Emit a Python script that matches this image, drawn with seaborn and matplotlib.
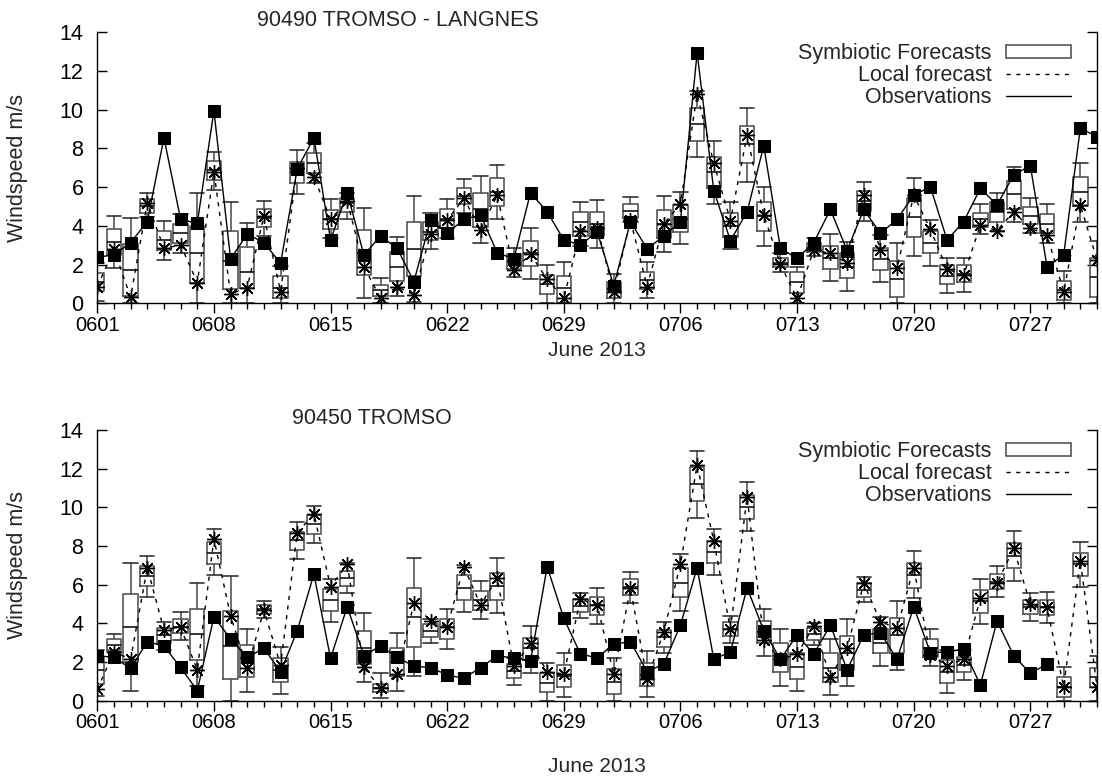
import numpy as np
import pandas as pd
import seaborn as sns
import matplotlib
matplotlib.use("Agg")
import matplotlib.pyplot as plt
from matplotlib.patches import Patch
from matplotlib.lines import Line2D

# ---------------- data ----------------
days = list(range(61))  # 0 = 0601 ... 60 = 0731
tick_days = [0, 7, 14, 21, 28, 35, 42, 49, 56]
tick_labels = ["0601", "0608", "0615", "0622", "0629", "0706", "0713", "0720", "0727"]
y_ticks = [0, 2, 4, 6, 8, 10, 12, 14]

# Panel 1: 90490 TROMSO - LANGNES
p1_title = "90490 TROMSO - LANGNES"
p1_lo = [0.13, 1.81, 0.0, 4.45, 2.24, 2.62, 0.0, 5.85, 0.0, 0.0, 3.48, 0.0, 5.63, 6.23, 3.36, 4.34, 0.29, 0.0, 0.38, 0.05,
         2.79, 3.36, 4.68, 3.1, 4.34, 1.38, 1.24, 0.0, 0.0, 2.95, 2.84, 0.0, 4.2, 0.26, 2.67, 3.05, 7.57, 5.13, 2.79, 6.28,
         2.96, 1.64, 0.0, 2.45, 1.17, 0.65, 4.25, 1.12, 0.0, 2.44, 1.93, 0.55, 0.6, 3.56, 3.75, 4.22, 3.65, 3.1, 0.0, 4.22, 0.0]
p1_q1 = [0.62, 2.5, 0.38, 4.68, 2.75, 3.1, 1.03, 6.37, 0.72, 0.81, 3.92, 0.29, 6.2, 6.71, 3.84, 4.73, 1.46, 0.38, 1.15, 1.41,
         3.27, 3.87, 5.11, 3.96, 5.03, 1.76, 1.93, 0.46, 0.03, 3.48, 3.48, 0.29, 4.39, 0.72, 3.36, 3.7, 8.4, 5.94, 3.41, 7.23,
         3.73, 1.86, 0.55, 2.63, 1.76, 1.29, 4.77, 1.72, 0.31, 3.44, 2.58, 1.0, 1.12, 3.96, 4.22, 4.87, 4.1, 3.61, 0.17, 5.03, 0.34]
p1_med = [1.08, 3.18, 1.72, 5.03, 3.27, 3.61, 2.58, 6.88, 2.2, 1.64, 4.39, 0.8, 6.8, 7.26, 4.34, 5.2, 2.6, 0.69, 1.89, 2.79,
          3.7, 4.36, 5.55, 4.85, 5.73, 2.2, 2.58, 0.98, 0.77, 4.22, 4.1, 0.75, 4.77, 1.2, 4.1, 4.35, 9.24, 6.76, 4.0, 8.21,
          4.5, 2.1, 1.08, 2.87, 2.36, 1.89, 5.28, 2.29, 1.24, 4.44, 3.13, 1.43, 1.5, 4.34, 4.7, 5.65, 4.51, 4.1, 0.69, 5.77, 1.34]
p1_q3 = [1.58, 3.82, 3.06, 5.37, 3.75, 4.1, 3.99, 7.35, 3.73, 2.93, 4.85, 1.41, 7.31, 7.75, 4.82, 5.46, 3.79, 0.95, 2.67, 4.18,
         4.22, 4.87, 5.97, 5.71, 6.45, 2.53, 3.22, 1.46, 1.43, 4.7, 4.73, 1.08, 5.13, 1.64, 4.82, 5.08, 10.07, 7.57, 4.65, 9.16,
         5.22, 2.36, 1.64, 3.13, 2.96, 2.58, 5.8, 2.87, 2.19, 5.46, 3.75, 1.98, 1.98, 4.68, 5.22, 6.33, 4.96, 4.6, 1.17, 6.51, 2.32]
p1_hi = [2.1, 4.53, 4.39, 5.71, 4.25, 4.6, 5.68, 7.83, 5.25, 4.13, 5.3, 1.93, 7.92, 8.26, 5.37, 5.68, 4.94, 1.29, 3.44, 5.56,
         4.68, 5.39, 6.4, 6.59, 7.14, 2.87, 3.87, 1.98, 2.12, 5.25, 5.34, 1.51, 5.51, 2.12, 5.56, 5.73, 10.97, 8.38, 5.25, 10.1,
         6.02, 2.58, 1.9, 3.36, 3.56, 3.18, 6.28, 3.53, 3.1, 6.45, 4.3, 2.36, 2.36, 5.11, 5.71, 7.06, 5.42, 5.11, 1.69, 7.26, 3.2]
p1_local = [0.86, 2.79, 0.31, 5.2, 2.84, 3.01, 1.07, 6.8, 0.48, 0.81, 4.51, 0.6, 7.0, 6.54, 4.34, 5.28, 1.89, 0.26, 0.86, 0.43,
            3.58, 4.3, 5.42, 3.79, 5.59, 1.72, 2.53, 1.24, 0.26, 3.75, 3.9, 0.6, 4.3, 0.86, 4.1, 5.13, 10.81, 7.23, 4.27, 8.69,
            4.56, 2.01, 0.26, 2.75, 2.58, 2.07, 5.59, 2.75, 1.81, 5.59, 3.82, 1.76, 1.46, 4.04, 3.75, 4.73, 3.87, 3.53, 0.6, 5.08, 2.24]
p1_obs = [2.38, 2.5, 3.13, 4.22, 8.55, 4.34, 4.13, 9.95, 2.29, 3.58, 3.13, 2.07, 6.94, 8.55, 3.27, 5.71, 2.5, 3.48, 2.84, 1.12,
          4.3, 3.61, 4.34, 4.56, 2.62, 2.29, 5.71, 4.73, 3.27, 3.01, 3.7, 0.91, 4.22, 2.81, 3.48, 4.22, 12.94, 5.82, 3.24, 4.73,
          8.14, 2.84, 2.32, 3.13, 4.85, 2.72, 4.85, 3.61, 4.34, 5.59, 6.02, 3.27, 4.22, 5.94, 5.08, 6.63, 7.11, 1.89, 2.5, 9.04, 8.61]

# Panel 2: 90450 TROMSO
p2_title = "90450 TROMSO"
p2_lo = [0.24, 2.5, 0.52, 5.38, 2.62, 3.14, 0.76, 6.5, 0.0, 0.43, 4.26, 0.34, 7.31, 8.14, 4.09, 5.55, 0.98, 0.12, 0.52, 1.28,
         3.0, 2.66, 4.6, 4.21, 4.52, 0.81, 1.41, 0.0, 0.17, 4.26, 3.97, 0.0, 5.07, 0.17, 2.45, 4.64, 9.43, 6.5, 3.0, 8.78,
         2.31, 0.76, 0.52, 2.9, 0.29, 0.74, 5.09, 1.81, 1.6, 5.29, 1.8, 0.38, 1.07, 3.97, 5.34, 6.21, 4.14, 4.0, 0.0, 5.86, 0.0]
p2_q1 = [0.86, 2.62, 2.02, 5.93, 3.0, 3.48, 2.1, 7.05, 1.1, 1.24, 4.48, 0.98, 7.79, 8.62, 4.64, 5.93, 1.9, 0.43, 1.28, 2.79,
         3.31, 3.17, 5.21, 4.69, 5.21, 1.16, 2.1, 0.43, 0.72, 4.57, 4.43, 0.33, 5.47, 0.76, 2.79, 5.38, 10.33, 7.1, 3.36, 9.4,
         2.97, 1.5, 1.1, 3.14, 0.98, 1.59, 5.38, 2.45, 2.45, 5.84, 2.28, 0.93, 1.47, 4.55, 5.78, 6.84, 4.48, 4.43, 0.21, 6.47, 0.72]
p2_med = [1.59, 2.88, 3.83, 6.45, 3.4, 3.79, 3.43, 7.66, 2.85, 2.2, 4.72, 1.6, 8.31, 9.12, 5.21, 6.33, 2.71, 0.64, 2.0, 4.31,
          3.62, 3.79, 5.84, 5.21, 5.93, 1.55, 2.7, 0.93, 1.29, 4.91, 4.95, 0.95, 5.86, 1.33, 3.3, 6.1, 11.21, 7.67, 3.71, 10.0,
          3.53, 2.3, 1.72, 3.45, 1.7, 2.45, 5.72, 3.0, 3.4, 6.5, 2.7, 1.5, 1.85, 5.16, 6.16, 7.5, 4.83, 4.83, 0.72, 7.07, 1.2]
p2_q3 = [2.19, 3.17, 5.5, 6.97, 3.74, 4.22, 4.72, 8.22, 4.64, 2.88, 4.95, 2.19, 8.74, 9.6, 5.76, 6.71, 3.62, 0.86, 2.74, 5.84,
         3.95, 4.22, 6.5, 5.69, 6.62, 1.88, 3.26, 1.45, 1.84, 5.24, 5.38, 1.62, 6.28, 1.93, 3.66, 6.84, 12.07, 8.26, 4.05, 10.64,
         4.12, 3.0, 2.45, 3.74, 2.45, 3.34, 6.07, 3.69, 4.26, 7.14, 3.19, 2.1, 2.28, 5.72, 6.53, 8.14, 5.21, 5.21, 1.24, 7.66, 1.71]
p2_hi = [2.62, 3.43, 7.14, 7.48, 4.09, 4.6, 6.07, 8.86, 6.45, 3.69, 5.17, 2.79, 9.22, 10.07, 6.3, 7.1, 4.52, 1.41, 3.52, 7.36,
         4.25, 4.74, 7.0, 6.21, 7.36, 2.2, 3.88, 1.97, 2.45, 5.55, 5.84, 2.22, 6.67, 2.57, 4.05, 7.57, 12.93, 8.86, 4.4, 11.29,
         4.72, 3.69, 3.1, 4.0, 3.19, 4.22, 6.38, 4.34, 5.17, 7.76, 3.69, 2.6, 2.62, 6.29, 6.97, 8.78, 5.59, 5.64, 1.72, 8.22, 2.3]
p2_local = [0.59, 2.53, 2.14, 6.88, 3.66, 3.79, 1.59, 8.36, 4.38, 1.67, 4.69, 1.84, 8.69, 9.66, 5.9, 7.05, 1.72, 0.64, 1.38, 5.03,
            4.12, 3.83, 6.93, 4.95, 6.33, 1.79, 2.97, 1.5, 1.38, 5.24, 4.95, 1.38, 5.81, 1.1, 3.57, 7.07, 12.19, 8.26, 3.71, 10.55,
            3.14, 2.14, 2.4, 3.86, 1.24, 2.71, 6.07, 4.09, 3.74, 6.88, 2.36, 1.81, 2.14, 5.29, 6.07, 7.88, 4.98, 4.83, 0.72, 7.24, 0.72]
p2_obs = [2.33, 2.24, 1.67, 3.05, 2.83, 1.72, 0.52, 4.34, 3.19, 2.24, 2.71, 1.5, 3.62, 6.55, 2.19, 4.86, 2.33, 2.83, 2.24, 1.79,
          1.71, 1.33, 1.16, 1.71, 2.31, 2.22, 2.05, 6.93, 4.26, 2.41, 2.22, 2.93, 3.05, 1.5, 1.9, 3.91, 6.88, 2.14, 2.53, 5.84,
          3.62, 2.14, 3.4, 2.41, 3.91, 1.59, 3.4, 3.52, 2.14, 4.86, 2.48, 2.53, 2.66, 0.81, 4.12, 2.33, 1.41, 1.9,
          np.nan, np.nan, np.nan]

legend_labels = ["Symbiotic Forecasts", "Local forecast", "Observations"]
x_label = "June 2013"
y_label = "Windspeed m/s"

# ---------------- style ----------------
sns.set_theme(style="ticks")
plt.rcParams['font.family'] = ['Liberation Sans', 'DejaVu Sans']
FS = 15.5
TFS = 14.5
BOXC = "#555555"

W, H = 1102, 779
fig = plt.figure(figsize=(W / 100, H / 100), dpi=100)
fig.patch.set_facecolor("white")


def px_axes(left, top, right, bottom):
    return fig.add_axes([left / W, 1 - bottom / H, (right - left) / W, (bottom - top) / H])


def draw_panel(ax, lo, q1, med, q3, hi, local, obs, title, title_xy, xlab_y):
    stats = [dict(whislo=a, q1=b, med=c, q3=d, whishi=e, fliers=[])
             for a, b, c, d, e in zip(lo, q1, med, q3, hi)]
    ax.bxp(stats, positions=days, widths=0.86, showfliers=False, manage_ticks=False,
           patch_artist=False, capwidths=0.86,
           boxprops=dict(color=BOXC, lw=1.2),
           whiskerprops=dict(color=BOXC, lw=1.2),
           capprops=dict(color="#333333", lw=1.2),
           medianprops=dict(color="black", lw=1.1))
    df = pd.DataFrame({"day": days, "local": local, "obs": obs})
    sns.lineplot(data=df, x="day", y="local", ax=ax, color="black", lw=1.0,
                 linestyle=(0, (3, 4)), marker=(8, 2, 0), markersize=10.5,
                 markeredgecolor="black", markeredgewidth=1.0, errorbar=None, zorder=3)
    sns.lineplot(data=df.dropna(), x="day", y="obs", ax=ax, color="black", lw=1.0,
                 marker="s", markersize=8, markeredgecolor="black", markerfacecolor="black",
                 errorbar=None, zorder=4)
    ax.set_xlim(0, 60)
    ax.set_ylim(0, 14)
    ax.set_xticks(tick_days)
    ax.set_xticklabels(tick_labels, fontsize=TFS)
    ax.set_xticks(days, minor=True)
    ax.set_yticks(y_ticks)
    ax.set_yticklabels([str(v) for v in y_ticks], fontsize=FS)
    ax.tick_params(axis="x", which="major", direction="out", length=7.5, width=1, pad=1.6, colors="black")
    ax.tick_params(axis="x", which="minor", direction="out", length=4.5, width=1, colors="black")
    ax.tick_params(axis="y", which="major", direction="in", length=7.5, width=1, pad=10,
                   left=True, right=True, colors="black")
    ax.tick_params(axis="y", which="minor", left=False, right=False)
    ax.tick_params(axis="x", top=False)
    for s in ["left", "bottom", "right"]:
        ax.spines[s].set_visible(True)
        ax.spines[s].set_color("black")
        ax.spines[s].set_linewidth(1.0)
    ax.spines["top"].set_visible(False)
    ax.set_xlabel("")
    ax.set_ylabel("")
    ax.set_facecolor("white")
    ax.grid(False)

    handles = [Patch(facecolor="white", edgecolor=BOXC, lw=1.2),
               Line2D([], [], color="black", lw=1.0, linestyle=(0, (3, 4))),
               Line2D([], [], color="black", lw=1.0)]
    ax.legend(handles, legend_labels, loc="upper right", bbox_to_anchor=(0.974, 0.96),
              frameon=False, markerfirst=False, fontsize=FS, handlelength=3.0,
              handleheight=0.55, handletextpad=0.7, labelspacing=0.05,
              borderpad=0, borderaxespad=0)

    fig.text(title_xy[0] / W, 1 - title_xy[1] / H, title, ha="center", va="center", fontsize=FS)
    fig.text(597 / W, 1 - xlab_y / H, x_label, ha="center", va="center", fontsize=15)
    pos = ax.get_position()
    fig.text(18 / W, pos.y0 + pos.height / 2, y_label, ha="center", va="center",
             rotation=90, fontsize=FS)


ax1 = px_axes(97.3, 32.3, 1097, 303.3)
ax2 = px_axes(97.3, 430, 1097, 700.7)

draw_panel(ax1, p1_lo, p1_q1, p1_med, p1_q3, p1_hi, p1_local, p1_obs, p1_title, (398, 20), 350)
draw_panel(ax2, p2_lo, p2_q1, p2_med, p2_q3, p2_hi, p2_local, p2_obs, p2_title, (372, 418), 766)

fig.savefig("out.png", dpi=100, facecolor="white")
